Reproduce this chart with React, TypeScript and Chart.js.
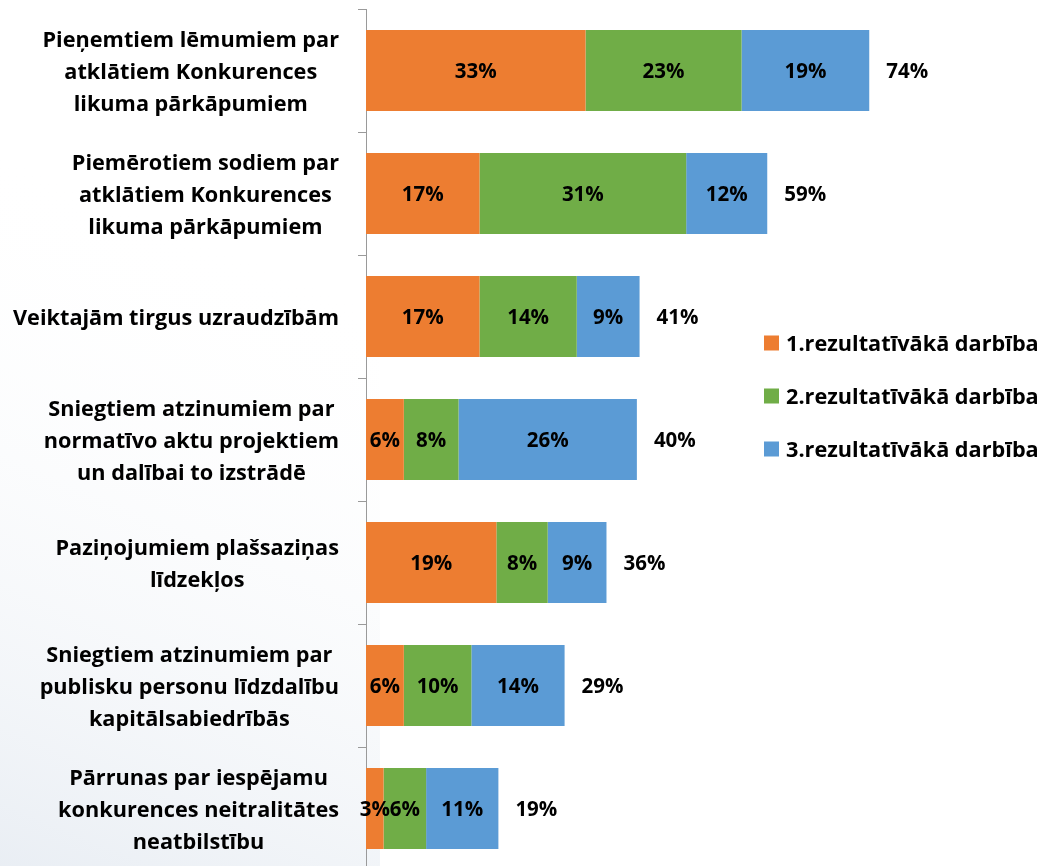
import React, { useEffect, useRef } from "react";
import { Chart, registerables } from "chart.js";
Chart.register(...registerables);

const categories: string[][] = [
  ["Pieņemtiem lēmumiem par", "atklātiem Konkurences", "likuma pārkāpumiem"],
  ["Piemērotiem sodiem par", "atklātiem Konkurences", "likuma pārkāpumiem"],
  ["Veiktajām tirgus uzraudzībām"],
  ["Sniegtiem atzinumiem par", "normatīvo aktu projektiem", "un dalībai to izstrādē"],
  ["Paziņojumiem plašsaziņas", "līdzekļos"],
  ["Sniegtiem atzinumiem par", "publisku personu līdzdalību", "kapitālsabiedrībās"],
  ["Pārrunas par iespējamu", "konkurences neitralitātes", "neatbilstību"],
];
const seriesNames = ["1.rezultatīvākā darbība", "2.rezultatīvākā darbība", "3.rezultatīvākā darbība"];
const firstValues = [32.5, 16.8, 16.8, 5.6, 19.3, 5.6, 2.6];
const secondValues = [23.1, 30.6, 14.4, 8.1, 7.6, 10.0, 6.3];
const thirdValues = [18.9, 12.0, 9.3, 26.4, 8.7, 13.8, 10.7];
const totals = [74, 59, 41, 40, 36, 29, 19];
const colors = ["#ED7D31", "#70AD47", "#5B9BD5"];

const FONT = "'Open Sans', Lato, sans-serif";

const backgroundPlugin = {
  id: "bg",
  beforeDraw(chart: any) {
    const { ctx, width, height } = chart;
    ctx.save();
    ctx.fillStyle = "#ffffff";
    ctx.fillRect(0, 0, width, height);
    const g = ctx.createLinearGradient(0, height, 260, 250);
    g.addColorStop(0, "rgba(214,223,234,0.55)");
    g.addColorStop(1, "rgba(255,255,255,0)");
    ctx.fillStyle = g;
    ctx.fillRect(0, 150, 380, height - 150);
    ctx.restore();
  },
};

const labelsPlugin = {
  id: "labels",
  afterDatasetsDraw(chart: any) {
    const { ctx } = chart;
    ctx.save();
    ctx.font = `bold 20.5px ${FONT}`;
    ctx.fillStyle = "#000000";
    ctx.textBaseline = "middle";
    const n = chart.data.datasets.length;
    chart.data.datasets.forEach((ds: any, di: number) => {
      const meta = chart.getDatasetMeta(di);
      meta.data.forEach((bar: any, i: number) => {
        const v = ds.data[i];
        ctx.textAlign = "center";
        ctx.fillText(Math.round(v) + "%", (bar.x + bar.base) / 2, bar.y + 2);
        if (di === n - 1) {
          ctx.textAlign = "left";
          ctx.fillText(totals[i] + "%", bar.x + 17, bar.y + 2);
        }
      });
    });
    ctx.restore();
  },
  afterDraw(chart: any) {
    const { ctx } = chart;
    const yScale = chart.scales.y;
    ctx.save();
    ctx.font = `bold 21.7px ${FONT}`;
    ctx.fillStyle = "#000000";
    ctx.textBaseline = "middle";
    ctx.textAlign = "center";
    const lineH = 32;
    const right = 339;
    categories.forEach((lines, i) => {
      const yc = yScale.getPixelForValue(i) + 2;
      const maxW = Math.max(...lines.map((l) => ctx.measureText(l).width));
      const cx = right - maxW / 2;
      lines.forEach((l, li) => {
        ctx.fillText(l, cx, yc + (li - (lines.length - 1) / 2) * lineH);
      });
    });
    // legend
    const legendY = [343, 396, 449];
    chart.data.datasets.forEach((ds: any, di: number) => {
      const y = legendY[di];
      ctx.fillStyle = ds.backgroundColor;
      ctx.fillRect(764, y - 7.5, 15, 15);
      ctx.fillStyle = "#000000";
      ctx.textAlign = "left";
      ctx.fillText(ds.label, 786, y + 2);
    });
    ctx.restore();
  },
};

export default function App() {
  const ref = useRef<HTMLCanvasElement | null>(null);
  useEffect(() => {
    document.body.style.margin = "0";
    document.documentElement.style.overflow = "hidden";
    const canvas = ref.current!;
    const chart = new Chart(canvas, {
      type: "bar",
      data: {
        labels: categories.map((c) => c.join(" ")),
        datasets: [firstValues, secondValues, thirdValues].map((d, i) => ({
          label: seriesNames[i],
          data: d,
          backgroundColor: colors[i],
          borderWidth: 0,
          categoryPercentage: 1,
          barPercentage: 0.66,
        })),
      },
      options: {
        indexAxis: "y",
        responsive: false,
        animation: false,
        devicePixelRatio: 1,
        layout: { padding: { top: 9, bottom: 10, left: 0, right: 2.5 } },
        plugins: { legend: { display: false }, tooltip: { enabled: false } },
        scales: {
          x: { stacked: true, min: 0, max: 100, display: false },
          y: {
            stacked: true,
            ticks: { display: false },
            grid: { display: true, drawOnChartArea: false, drawTicks: true, tickLength: 8, color: "#9a9a9a", offset: true },
            border: { display: true, color: "#9a9a9a", width: 1 },
            afterFit: (s: any) => {
              s.width = 366;
            },
          },
        },
      },
      plugins: [backgroundPlugin, labelsPlugin],
    } as any);
    return () => chart.destroy();
  }, []);
  return <canvas ref={ref} width={1044} height={880} style={{ display: "block" }} />;
}
